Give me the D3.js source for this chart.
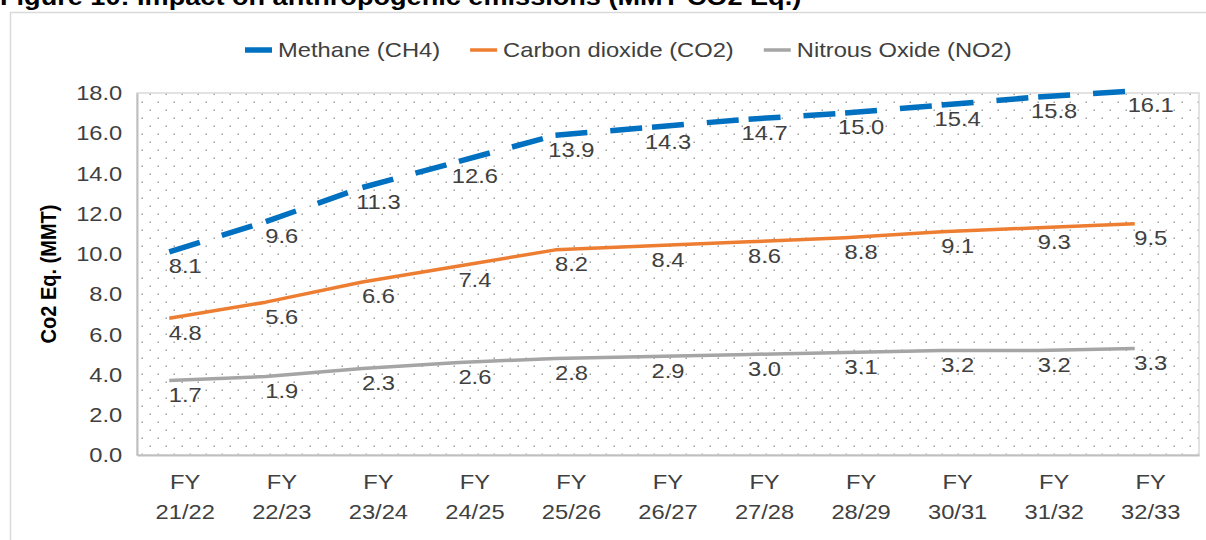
<!DOCTYPE html>
<html>
<head>
<meta charset="utf-8">
<script src="https://cdn.jsdelivr.net/npm/d3@7"></script>
<style>
  body { margin: 0; background: #fff; }
  svg { display: block; font-family: "Liberation Sans", Arial, sans-serif; }
</style>
</head>
<body>
<div id="chart"></div>
<script>
// data
var years = ["21/22", "22/23", "23/24", "24/25", "25/26", "26/27", "27/28", "28/29", "30/31", "31/32", "32/33"];
var methane = [8.1, 9.6, 11.3, 12.6, 13.9, 14.3, 14.7, 15.0, 15.4, 15.8, 16.1];
var co2 = [4.8, 5.6, 6.6, 7.4, 8.2, 8.4, 8.6, 8.8, 9.1, 9.3, 9.5];
var no2 = [1.7, 1.9, 2.3, 2.6, 2.8, 2.9, 3.0, 3.1, 3.2, 3.2, 3.3];
var yTicks = [0, 2, 4, 6, 8, 10, 12, 14, 16, 18];
var seriesNames = ["Methane (CH4)", "Carbon dioxide (CO2)", "Nitrous Oxide (NO2)"];

// in the source picture the lines sit 2 units above their labels and a bit left of the category centre
var lineLift = 2.0, lineNudge = -16;
var sx = 1.13; // source text is stretched horizontally
var fs = 21;

var W = 1206, H = 540;
var margin = { top: 93, left: 137, right: 7, bottom: 85 },
    width = W - margin.left - margin.right,
    height = H - margin.top - margin.bottom;

var svg = d3.select("#chart").append("svg")
    .attr("width", W)
    .attr("height", H);

// title (mostly cut off at the top)
svg.append("text")
    .attr("transform", "translate(0,5) scale(" + sx + ",1)")
    .attr("font-size", 24)
    .attr("font-weight", "bold")
    .attr("fill", "#000")
    .text("Figure 10: Impact on anthropogenic emissions (MMT CO2 Eq.)");

// outer frame
svg.append("rect")
    .attr("x", 10.5).attr("y", 12.5)
    .attr("width", 1300).attr("height", 700)
    .attr("fill", "none")
    .attr("stroke", "#d9d9d9")
    .attr("stroke-width", 1.5);

var defs = svg.append("defs");
var pat = defs.append("pattern")
    .attr("id", "dots")
    .attr("patternUnits", "userSpaceOnUse")
    .attr("width", 16).attr("height", 16)
    .attr("x", margin.left).attr("y", margin.top);
pat.append("rect").attr("x", 3.5).attr("y", 3.5).attr("width", 1.5).attr("height", 1.5).attr("fill", "#a0a0a0");
pat.append("rect").attr("x", 11.5).attr("y", 11.5).attr("width", 1.5).attr("height", 1.5).attr("fill", "#a0a0a0");

var canvas = svg.append("g")
    .attr("transform", "translate(" + margin.left + "," + margin.top + ")");

var xScale = d3.scaleBand()
    .domain(years)
    .range([0, width]);

var yScale = d3.scaleLinear()
    .domain([0, 18])
    .range([height, 0]);

canvas.append("rect")
    .attr("width", width)
    .attr("height", height)
    .attr("fill", "url(#dots)")
    .attr("stroke", "#d9d9d9")
    .attr("stroke-width", 1.5);

// y axis
var yg = canvas.append("g")
    .call(d3.axisLeft(yScale).tickValues(yTicks).tickSize(0).tickPadding(13).tickFormat(d3.format(".1f")));
yg.select(".domain").attr("stroke", "#bfbfbf").attr("stroke-width", 2);
yg.selectAll(".tick text")
    .attr("font-size", fs)
    .attr("font-family", "Liberation Sans, Arial, sans-serif")
    .attr("fill", "#404040")
    .attr("transform", "scale(" + sx + ",1)");

// x axis
var xg = canvas.append("g")
    .attr("transform", "translate(0," + height + ")")
    .call(d3.axisBottom(xScale).tickSize(0).tickPadding(0));
xg.select(".domain").attr("stroke", "#bfbfbf").attr("stroke-width", 2);
xg.selectAll(".tick text").remove();
xg.selectAll(".tick").append("text")
    .attr("font-size", fs)
    .attr("font-family", "Liberation Sans, Arial, sans-serif")
    .attr("fill", "#404040")
    .attr("text-anchor", "middle")
    .attr("transform", "scale(" + sx + ",1)")
    .each(function (d) {
        var t = d3.select(this);
        t.append("tspan").attr("x", 0).attr("y", 34).text("FY");
        t.append("tspan").attr("x", 0).attr("y", 64).text(d);
    });

// y axis title
svg.append("text")
    .attr("transform", "translate(56," + (margin.top + height / 2) + ") scale(" + sx + ",1) rotate(-90)")
    .attr("text-anchor", "middle")
    .attr("font-size", 20)
    .attr("font-weight", "bold")
    .attr("fill", "#000")
    .text("Co2 Eq. (MMT)");

var series = [
    { name: seriesNames[0], values: methane, color: "#0070c0", width: 5.5, dash: "32,23" },
    { name: seriesNames[1], values: co2, color: "#ed7d31", width: 3.5, dash: null },
    { name: seriesNames[2], values: no2, color: "#a5a5a5", width: 3.5, dash: null }
];

function px(i) { return xScale(years[i]) + xScale.bandwidth() / 2 + lineNudge; }
function py(v) { return yScale(v + lineLift); }

var line = d3.line()
    .x(function (d, i) { return px(i); })
    .y(function (d) { return py(d); });

// draw back to front: NO2, CO2, methane
series.slice().reverse().forEach(function (s) {
    if (s.dash) {
        // dash pattern restarts at each point, as in the source
        var segs = d3.pairs(s.values.map(function (v, i) { return [px(i), py(v)]; }));
        canvas.append("g").selectAll("path")
            .data(segs)
            .enter().append("path")
            .attr("d", function (d) { return "M" + d[0][0] + "," + d[0][1] + "L" + d[1][0] + "," + d[1][1]; })
            .attr("fill", "none")
            .attr("stroke", s.color)
            .attr("stroke-width", s.width)
            .attr("stroke-dasharray", s.dash);
    } else {
        canvas.append("path")
            .datum(s.values)
            .attr("d", line)
            .attr("fill", "none")
            .attr("stroke", s.color)
            .attr("stroke-width", s.width)
            .attr("stroke-linejoin", "round");
    }
});

// data labels, below each point at the category centre
series.forEach(function (s) {
    canvas.append("g").selectAll("text")
        .data(s.values)
        .enter().append("text")
        .attr("transform", function (d, i) {
            return "translate(" + (xScale(years[i]) + xScale.bandwidth() / 2) + "," + (py(d) + 14) + ") scale(" + sx + ",1)";
        })
        .attr("dy", "0.35em")
        .attr("text-anchor", "middle")
        .attr("font-size", fs)
        .attr("fill", "#404040")
        .text(function (d) { return d.toFixed(1); });
});

// legend
var legend = svg.append("g").attr("transform", "translate(245,50)");
var lx = 0;
series.forEach(function (s) {
    var g = legend.append("g").attr("transform", "translate(" + lx + ",0)");
    g.append("line")
        .attr("x1", 0).attr("x2", 27)
        .attr("stroke", s.color)
        .attr("stroke-width", s.dash ? 5.5 : 3.5);
    var t = g.append("text")
        .attr("transform", "translate(33,0) scale(" + sx + ",1)")
        .attr("dy", "0.35em")
        .attr("font-size", fs)
        .attr("fill", "#404040")
        .text(s.name);
    lx += 33 + t.node().getComputedTextLength() * sx + 30;
});
</script>
</body>
</html>
